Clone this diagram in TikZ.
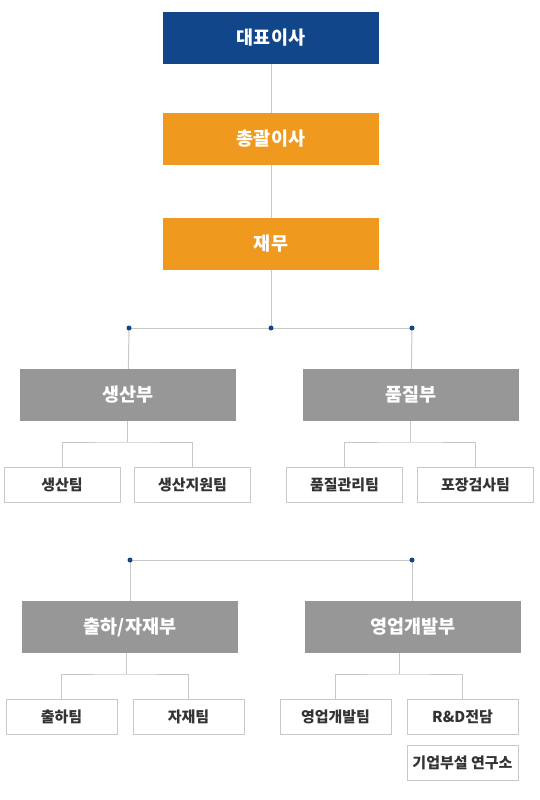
\documentclass[tikz,border=0pt]{standalone}
\usepackage{fontspec}
\setmainfont{Noto Sans CJK KR}
\definecolor{navy}{HTML}{11468A}
\definecolor{amber}{HTML}{EF9A1E}
\definecolor{slate}{HTML}{979797}
\definecolor{wire}{HTML}{C8C8C8}
\definecolor{ink}{HTML}{333333}
\begin{document}
\begin{tikzpicture}[x=1pt,y=-1pt,
        head/.style={minimum width=216pt, minimum height=52pt, inner sep=0pt, text=white, font=\fontsize{18.5}{22}\selectfont\bfseries},
        team/.style={draw=wire, line width=1pt, fill=white, minimum height=35pt, inner sep=0pt, text=ink, font=\fontsize{15}{18}\selectfont\bfseries},
        link/.style={draw=wire, line width=1pt},
        knot/.style={fill=navy, circle, inner sep=0pt, minimum size=5pt}]
        \useasboundingbox (0,0) rectangle (540,800);
        \node[head, fill=navy] (ceo) at (271,38) {대표이사};
        \node[head, fill=amber] (gm) at (271,139) {총괄이사};
        \node[head, fill=amber] (fin) at (271,244) {재무};
        \coordinate (d1) at (129,328);
        \coordinate (d2) at (271,328);
        \coordinate (d3) at (412,328);
        \node[head, fill=slate] (prod) at (128,395) {생산부};
        \node[head, fill=slate] (qual) at (411,395) {품질부};
        \node[team, minimum width=116pt] (t1) at (62,484.5) {생산팀};
        \node[team, minimum width=116pt] (t2) at (192.5,484.5) {생산지원팀};
        \node[team, minimum width=116pt] (t3) at (344.5,484.5) {품질관리팀};
        \node[team, minimum width=116pt] (t4) at (475.5,484.5) {포장검사팀};
        \coordinate (e1) at (130,560);
        \coordinate (e2) at (412,560);
        \node[head, fill=slate] (ship) at (130,627) {출하/자재부};
        \node[head, fill=slate] (sales) at (413,627) {영업개발부};
        \node[team, minimum width=111pt] (s1) at (61.5,716.5) {출하팀};
        \node[team, minimum width=111pt] (s2) at (188.5,716.5) {자재팀};
        \node[team, minimum width=111pt] (s3) at (335.5,716.5) {영업개발팀};
        \node[team, minimum width=111pt] (s4) at (462.5,716.5) {R\&D전담};
        \node[team, minimum width=111pt] (lab) at (462.5,762.5) {기업부설 연구소};
        \coordinate (b1) at (127,442);
        \coordinate (b2) at (410,442);
        \coordinate (b3) at (126,674);
        \coordinate (b4) at (399,674);
        \draw[link] (ceo) -- (gm);
        \draw[link] (gm) -- (fin);
        \draw[link] (fin) -- (d2);
        \draw[link] (d1) -- (d3);
        \draw[link] (d1) -- (prod);
        \draw[link] (d3) -- (qual);
        \draw[link] (prod.south -| b1) -- (b1);
        \draw[link] (t1.north) |- (b1) -| (t2.north);
        \draw[link] (qual.south -| b2) -- (b2);
        \draw[link] (t3.north) |- (b2) -| (t4.north);
        \draw[link] (e1) -- (e2);
        \draw[link] (e1) -- (ship);
        \draw[link] (e2) -- (sales.north -| e2);
        \draw[link] (ship.south -| b3) -- (b3);
        \draw[link] (s1.north) |- (b3) -| (s2.north);
        \draw[link] (sales.south -| b4) -- (b4);
        \draw[link] (s3.north) |- (b4) -| (s4.north);
        \foreach \k in {d1,d2,d3,e1,e2}
                \node[knot] at (\k) {};
\end{tikzpicture}
\end{document}
